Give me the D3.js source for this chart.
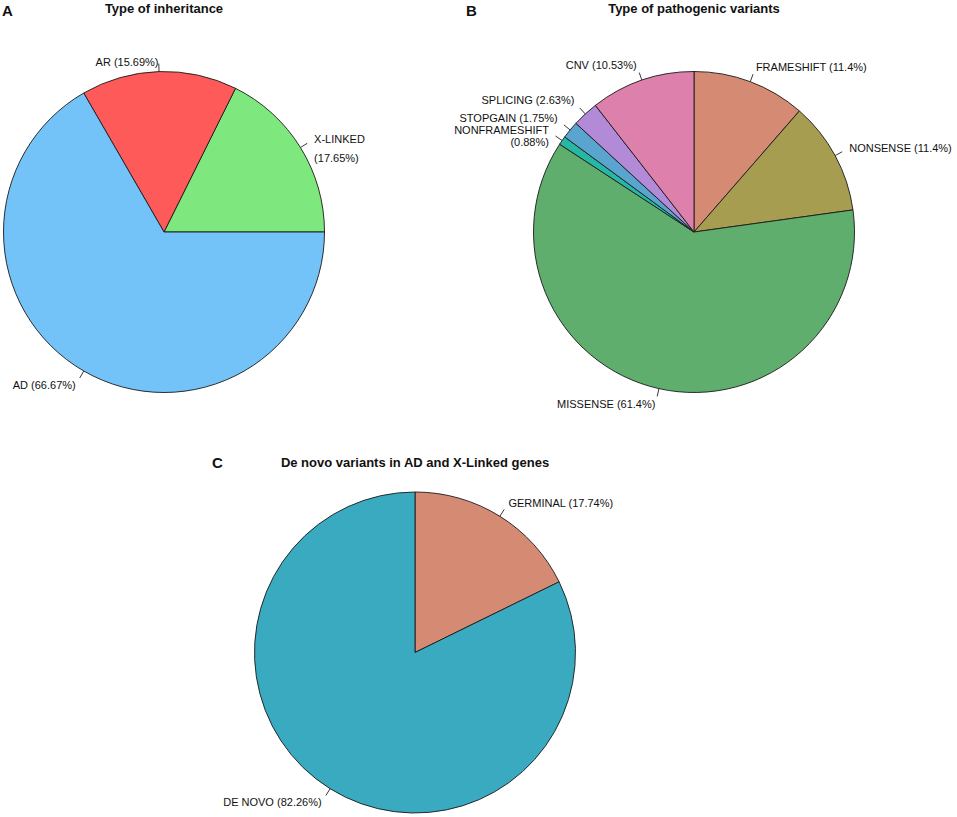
<!DOCTYPE html>
<html>
<head>
<meta charset="utf-8">
<script src="https://cdn.jsdelivr.net/npm/d3@7"></script>
<style>
  body{margin:0;background:#fff;}
  text{font-family:"Liberation Sans",Arial,sans-serif;fill:#111;}
</style>
</head>
<body>
<svg id="chart"></svg>
<script>
// panel A
var inheritLabels=["X-LINKED","AR","AD"];
var inheritValues=[17.65,15.69,66.67];
var inheritColors=["#7EE87E","#FE5A5A","#73C3F8"];

// panel B
var variantLabels=["FRAMESHIFT","NONSENSE","MISSENSE","NONFRAMESHIFT","STOPGAIN","SPLICING","CNV"];
var variantValues=[11.4,11.4,61.4,0.88,1.75,2.63,10.53];
var variantColors=["#D58B73","#A69D50","#60AE6E","#26B8A5","#5AA4D0","#B28AD8","#DE80AC"];

// panel C
var denovoLabels=["GERMINAL","DE NOVO"];
var denovoValues=[17.74,82.26];
var denovoColors=["#D58B73","#3AAAC0"];

var svg=d3.select("#chart")
          .attr("width",957)
          .attr("height",817);

var pct=function(v){return "("+v+"%)";};

var drawPie=function(cfg)
{
  var g=svg.append("g")
           .attr("transform","translate("+cfg.cx+","+cfg.cy+")");
  var pie=d3.pie()
            .sort(null)
            .value(function(d){return d.value;})
            .startAngle(cfg.start)
            .endAngle(cfg.end);
  var data=cfg.labels.map(function(l,i){
    return {name:l,value:cfg.values[i],color:cfg.colors[i]};
  });
  var arcs=pie(data);
  var arc=d3.arc().innerRadius(0).outerRadius(cfg.r);

  g.selectAll("path")
   .data(arcs)
   .enter()
   .append("path")
   .attr("d",arc)
   .attr("fill",function(d){return d.data.color;})
   .attr("stroke","#1a1a1a")
   .attr("stroke-width",0.9)
   .attr("stroke-linejoin","round");

  // R style ticks: from r to 1.05r, labels at 1.1r
  var mid=function(d){return (d.startAngle+d.endAngle)/2;};
  g.selectAll("line")
   .data(arcs)
   .enter()
   .append("line")
   .attr("x1",function(d){return Math.sin(mid(d))*cfg.r;})
   .attr("y1",function(d){return -Math.cos(mid(d))*cfg.r;})
   .attr("x2",function(d){return Math.sin(mid(d))*cfg.r*1.05;})
   .attr("y2",function(d){return -Math.cos(mid(d))*cfg.r*1.05;})
   .attr("stroke","#222")
   .attr("stroke-width",0.9);

  var labs=g.selectAll("text.lab")
            .data(arcs)
            .enter()
            .append("text")
            .classed("lab",true)
            .attr("font-size","11px")
            .attr("text-anchor",function(d){return Math.sin(mid(d))>=0?"start":"end";})
            .attr("transform",function(d){
              var x=Math.sin(mid(d))*cfg.r*1.1;
              var y=-Math.cos(mid(d))*cfg.r*1.1+(cfg.nudge[d.data.name]||0);
              return "translate("+x+","+y+")";
            });
  labs.each(function(d){
    var lines=cfg.split[d.data.name]?[d.data.name,pct(d.data.value)]:[d.data.name+" "+pct(d.data.value)];
    var t=d3.select(this);
    lines.forEach(function(s,i){
      t.append("tspan")
       .attr("x",0)
       .attr("y",(i-(lines.length-1)/2)*cfg.lineHeight)
       .attr("dy","0.35em")
       .text(s);
    });
  });

  svg.append("text")
     .attr("x",cfg.cx)
     .attr("y",cfg.titleY)
     .attr("text-anchor","middle")
     .attr("font-size","13px")
     .attr("font-weight","bold")
     .text(cfg.title);
  svg.append("text")
     .attr("x",cfg.letterX)
     .attr("y",cfg.letterY)
     .attr("font-size","15px")
     .attr("font-weight","bold")
     .text(cfg.letter);
};

drawPie({
  labels:inheritLabels,values:inheritValues,colors:inheritColors,
  cx:164,cy:232,r:160.5,start:Math.PI/2,end:Math.PI/2-2*Math.PI,
  split:{"X-LINKED":true},nudge:{"AR":7,"X-LINKED":9.5},lineHeight:19,
  title:"Type of inheritance",titleY:13,letter:"A",letterX:2,letterY:16
});
drawPie({
  labels:variantLabels,values:variantValues,colors:variantColors,
  cx:694,cy:232,r:160.5,start:0,end:2*Math.PI,
  split:{"NONFRAMESHIFT":true},nudge:{"NONFRAMESHIFT":5,"STOPGAIN":-2,"SPLICING":-2},lineHeight:12,
  title:"Type of pathogenic variants",titleY:13,letter:"B",letterX:466,letterY:16
});
drawPie({
  labels:denovoLabels,values:denovoValues,colors:denovoColors,
  cx:415,cy:652.5,r:160.5,start:0,end:2*Math.PI,
  split:{},nudge:{},lineHeight:12,
  title:"De novo variants in AD and X-Linked genes",titleY:467,letter:"C",letterX:212,letterY:468
});
</script>
</body>
</html>
